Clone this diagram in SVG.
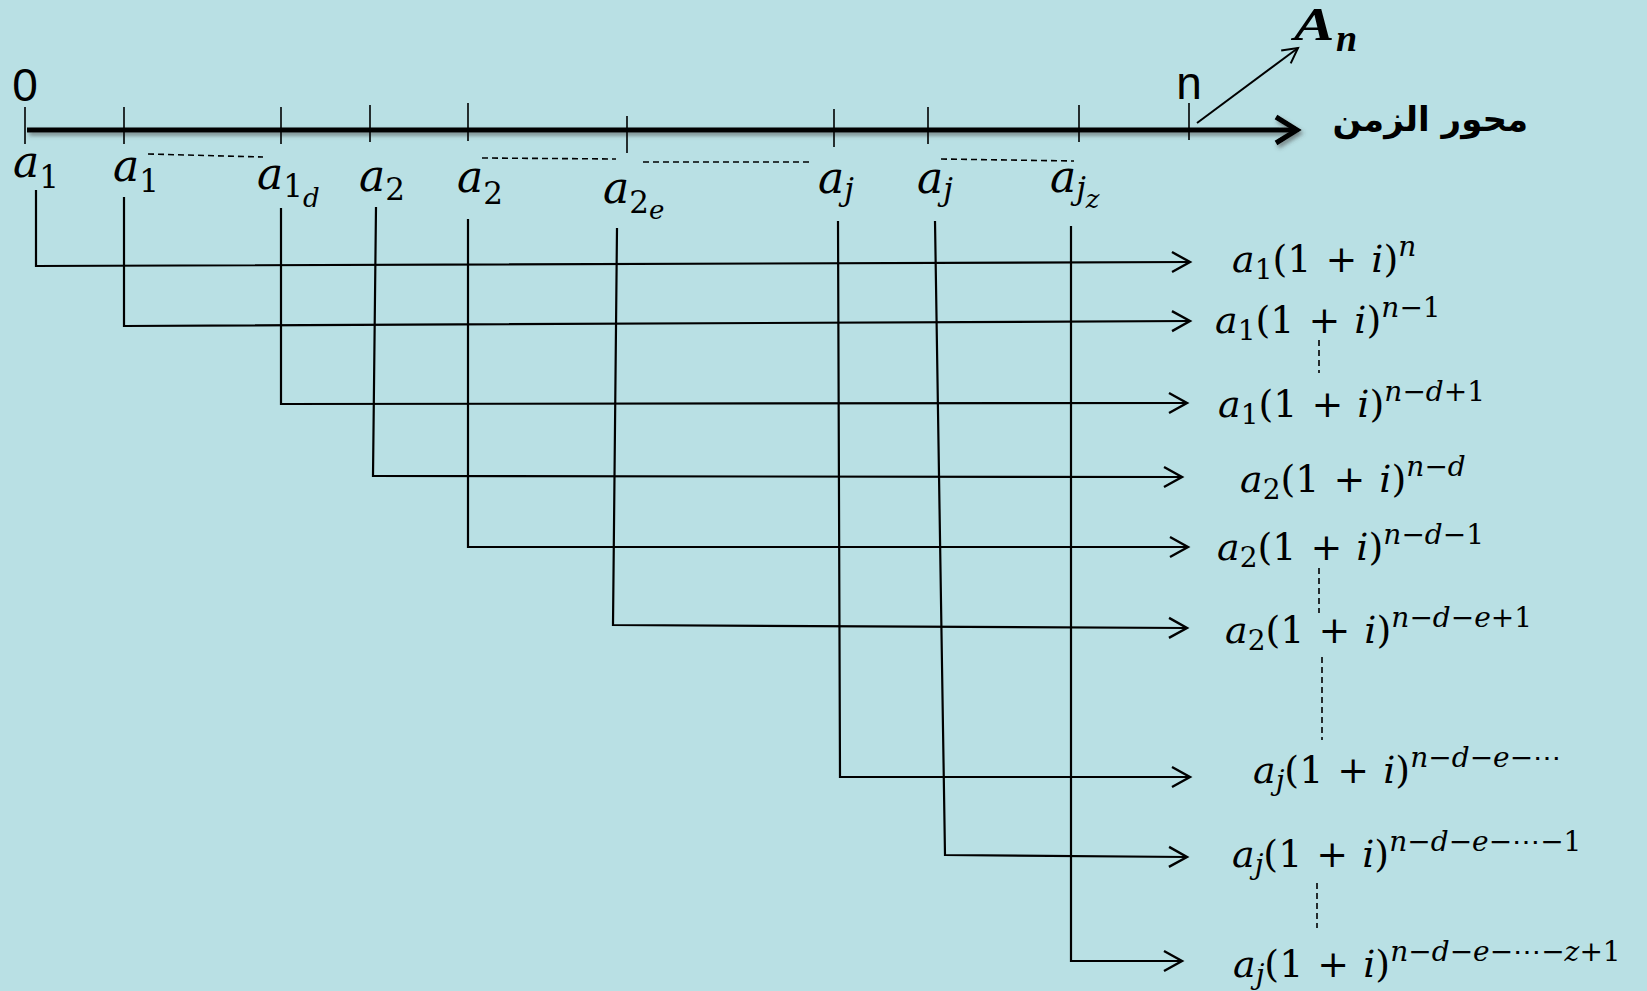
<svg xmlns="http://www.w3.org/2000/svg" width="1647" height="991" viewBox="0 0 1647 991">
<style>
.m{font-family:"DejaVu Serif","Liberation Serif",serif;font-size:38px;fill:#000}
.L{font-family:"DejaVu Serif","Liberation Serif",serif;font-size:44px;fill:#000}
.i{font-style:italic}
.s{font-size:28px}
.ls{font-size:31px}
.lss{font-size:26px}
.tick{stroke:#000;stroke-width:1.6}
.dash{stroke:#000;stroke-width:1.6;stroke-dasharray:6 4;fill:none}
.con{stroke:#000;stroke-width:2.2;fill:none;marker-end:url(#ah)}
.sans{font-family:"Liberation Sans",Arial,sans-serif;font-size:46px;fill:#000}
</style>
<defs>
<marker id="ah" markerUnits="userSpaceOnUse" viewBox="-22 -13 24 26" markerWidth="24" markerHeight="26" refX="0" refY="0" orient="auto" overflow="visible">
<path d="M-18,-10 L0,0 L-18,10" fill="none" stroke="#000" stroke-width="2.4"/>
</marker>
<marker id="ahBig" markerUnits="userSpaceOnUse" viewBox="-26 -16 30 32" markerWidth="30" markerHeight="32" refX="0" refY="0" orient="auto" overflow="visible">
<path d="M-21,-13 L0,0 L-21,13" fill="none" stroke="#000" stroke-width="5"/>
</marker>
<marker id="ahS" markerUnits="userSpaceOnUse" viewBox="-18 -10 20 20" markerWidth="20" markerHeight="20" refX="0" refY="0" orient="auto" overflow="visible">
<path d="M-15,-8 L0,0 L-15,8" fill="none" stroke="#000" stroke-width="2"/>
</marker>
<filter id="sh" filterUnits="userSpaceOnUse" x="0" y="90" width="1647" height="90">
<feDropShadow dx="2" dy="3" stdDeviation="2" flood-color="#444" flood-opacity="0.6"/>
</filter>
</defs>
<rect width="1647" height="991" fill="#B9E0E4"/>

<g id="axis">
<line x1="27" y1="130" x2="1297" y2="130" stroke="#000" stroke-width="5" marker-end="url(#ahBig)" filter="url(#sh)"/>
<line class="tick" x1="25" y1="107" x2="25" y2="144"/>
<line class="tick" x1="124" y1="107" x2="124" y2="144"/>
<line class="tick" x1="281" y1="107" x2="281" y2="144"/>
<line class="tick" x1="370" y1="105" x2="370" y2="142"/>
<line class="tick" x1="468" y1="103" x2="468" y2="141"/>
<line class="tick" x1="627" y1="116" x2="627" y2="153"/>
<line class="tick" x1="834" y1="109" x2="834" y2="147"/>
<line class="tick" x1="928" y1="107" x2="928" y2="144"/>
<line class="tick" x1="1079" y1="105" x2="1079" y2="142"/>
<line class="tick" x1="1189" y1="103" x2="1189" y2="140"/>
<text class="sans" x="25" y="101" text-anchor="middle">0</text>
<text class="sans" x="1189" y="99" text-anchor="middle">n</text>
<text x="1528" y="131" text-anchor="end" font-family="DejaVu Sans,sans-serif" font-weight="bold" font-size="34">محور الزمن</text>
<line x1="1197" y1="123" x2="1298" y2="48" stroke="#000" stroke-width="2" marker-end="url(#ahS)"/>
</g>

<g id="label-An">
<text transform="translate(1294,40) scale(1.32,1)" x="0" y="0" font-family="Liberation Serif,serif" font-weight="bold" font-style="italic" font-size="46">A</text>
<text x="1336" y="51" font-family="Liberation Serif,serif" font-weight="bold" font-style="italic" font-size="38">n</text>
</g>

<g id="dashes">
<line class="dash" x1="148" y1="154" x2="263" y2="157"/>
<line class="dash" x1="482" y1="158" x2="616" y2="159"/>
<line class="dash" x1="643" y1="162" x2="809" y2="162"/>
<line class="dash" x1="941" y1="159" x2="1074" y2="161"/>
<line class="dash" x1="1319" y1="340" x2="1319" y2="373"/>
<line class="dash" x1="1319" y1="568" x2="1319" y2="613"/>
<line class="dash" x1="1322" y1="657" x2="1322" y2="740"/>
<line class="dash" x1="1317" y1="883" x2="1317" y2="928"/>
</g>

<g id="label-a1-first"><text class="L" x="13" y="177"><tspan class="i">a</tspan><tspan class="ls" dy="11">1</tspan></text></g>
<g id="label-a1-second"><text class="L" x="113" y="181"><tspan class="i">a</tspan><tspan class="ls" dy="11">1</tspan></text></g>
<g id="label-a1d"><text class="L" x="257" y="189"><tspan class="i">a</tspan><tspan class="ls" dy="8">1</tspan><tspan class="lss i" dy="10">d</tspan></text></g>
<g id="label-a2-first"><text class="L" x="359" y="191"><tspan class="i">a</tspan><tspan class="ls" dy="9">2</tspan></text></g>
<g id="label-a2-second"><text class="L" x="457" y="192"><tspan class="i">a</tspan><tspan class="ls" dy="12">2</tspan></text></g>
<g id="label-a2e"><text class="L" x="603" y="203"><tspan class="i">a</tspan><tspan class="ls" dy="10">2</tspan><tspan class="lss i" dy="6">e</tspan></text></g>
<g id="label-aj-first"><text class="L" x="818" y="193"><tspan class="i">a</tspan><tspan class="ls i" dy="7">j</tspan></text></g>
<g id="label-aj-second"><text class="L" x="917" y="193"><tspan class="i">a</tspan><tspan class="ls i" dy="7">j</tspan></text></g>
<g id="label-ajz"><text class="L" x="1050" y="192"><tspan class="i">a</tspan><tspan class="ls i" dy="7">j</tspan><tspan class="lss i" dy="9">z</tspan></text></g>

<g id="connectors">
<polyline class="con" points="36,190 36,266 1190,262"/>
<polyline class="con" points="124,197 124,326 1190,321"/>
<polyline class="con" points="281,208 281,404 1187,403"/>
<polyline class="con" points="376,207 373,476 1182,477"/>
<polyline class="con" points="468,219 468,547 1188,547"/>
<polyline class="con" points="617,228 613,625 1187,628"/>
<polyline class="con" points="838,221 840,777 1190,777"/>
<polyline class="con" points="935,221 945,855 1187,857"/>
<polyline class="con" points="1071,226 1071,961 1182,961"/>
</g>

<g id="expr-1"><text class="m" x="1232" y="272"><tspan class="i">a</tspan><tspan class="s" dy="7">1</tspan><tspan dy="-7">(1</tspan><tspan dx="14">+</tspan><tspan class="i" dx="14">i</tspan><tspan>)</tspan><tspan class="s i" dy="-16">n</tspan></text></g>
<g id="expr-2"><text class="m" x="1215" y="333"><tspan class="i">a</tspan><tspan class="s" dy="7">1</tspan><tspan dy="-7">(1</tspan><tspan dx="14">+</tspan><tspan class="i" dx="14">i</tspan><tspan>)</tspan><tspan class="s" dy="-16"><tspan class="i">n</tspan>−1</tspan></text></g>
<g id="expr-3"><text class="m" x="1218" y="417"><tspan class="i">a</tspan><tspan class="s" dy="7">1</tspan><tspan dy="-7">(1</tspan><tspan dx="14">+</tspan><tspan class="i" dx="14">i</tspan><tspan>)</tspan><tspan class="s" dy="-16"><tspan class="i">n</tspan>−<tspan class="i">d</tspan>+1</tspan></text></g>
<g id="expr-4"><text class="m" x="1240" y="492"><tspan class="i">a</tspan><tspan class="s" dy="7">2</tspan><tspan dy="-7">(1</tspan><tspan dx="14">+</tspan><tspan class="i" dx="14">i</tspan><tspan>)</tspan><tspan class="s" dy="-16"><tspan class="i">n</tspan>−<tspan class="i">d</tspan></tspan></text></g>
<g id="expr-5"><text class="m" x="1217" y="560"><tspan class="i">a</tspan><tspan class="s" dy="7">2</tspan><tspan dy="-7">(1</tspan><tspan dx="14">+</tspan><tspan class="i" dx="14">i</tspan><tspan>)</tspan><tspan class="s" dy="-16"><tspan class="i">n</tspan>−<tspan class="i">d</tspan>−1</tspan></text></g>
<g id="expr-6"><text class="m" x="1225" y="643"><tspan class="i">a</tspan><tspan class="s" dy="7">2</tspan><tspan dy="-7">(1</tspan><tspan dx="14">+</tspan><tspan class="i" dx="14">i</tspan><tspan>)</tspan><tspan class="s" dy="-16"><tspan class="i">n</tspan>−<tspan class="i">d</tspan>−<tspan class="i">e</tspan>+1</tspan></text></g>
<g id="expr-7"><text class="m" x="1253" y="783"><tspan class="i">a</tspan><tspan class="s i" dy="7">j</tspan><tspan dy="-7">(1</tspan><tspan dx="14">+</tspan><tspan class="i" dx="14">i</tspan><tspan>)</tspan><tspan class="s" dy="-16"><tspan class="i">n</tspan>−<tspan class="i">d</tspan>−<tspan class="i">e</tspan>−⋯</tspan></text></g>
<g id="expr-8"><text class="m" x="1232" y="867"><tspan class="i">a</tspan><tspan class="s i" dy="7">j</tspan><tspan dy="-7">(1</tspan><tspan dx="14">+</tspan><tspan class="i" dx="14">i</tspan><tspan>)</tspan><tspan class="s" dy="-16"><tspan class="i">n</tspan>−<tspan class="i">d</tspan>−<tspan class="i">e</tspan>−⋯−1</tspan></text></g>
<g id="expr-9"><text class="m" x="1233" y="977"><tspan class="i">a</tspan><tspan class="s i" dy="7">j</tspan><tspan dy="-7">(1</tspan><tspan dx="14">+</tspan><tspan class="i" dx="14">i</tspan><tspan>)</tspan><tspan class="s" dy="-16"><tspan class="i">n</tspan>−<tspan class="i">d</tspan>−<tspan class="i">e</tspan>−⋯−<tspan class="i">z</tspan>+1</tspan></text></g>
</svg>
